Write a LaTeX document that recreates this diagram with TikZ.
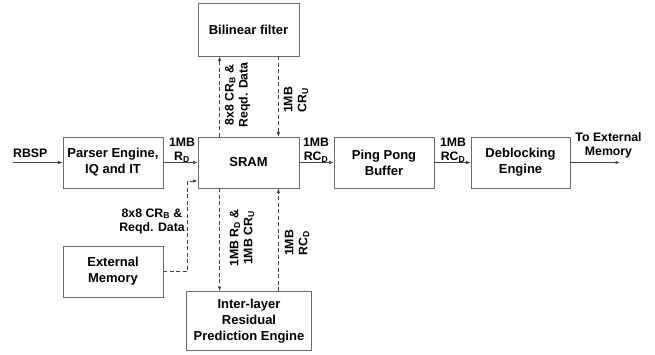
\documentclass[tikz,border=0pt]{standalone}
\usepackage{fontspec}
\setmainfont{Liberation Sans}
\usetikzlibrary{arrows.meta,calc}
\definecolor{boxgray}{HTML}{6A6A6A}
\definecolor{linegray}{HTML}{444444}
\begin{document}
\begin{tikzpicture}[x=1pt,y=-1pt,
 blk/.style={draw=boxgray,line width=0.8pt,inner sep=0pt,align=center,font=\fontsize{13}{16}\selectfont\bfseries},
 lbl/.style={inner sep=0pt,align=center,font=\fontsize{12.3}{14}\selectfont\bfseries},
 conn/.style={draw=linegray,line width=0.7pt,-{Latex[length=4.5pt,width=3.5pt]}},
 dconn/.style={conn,dash pattern=on 4pt off 2.5pt}]
\useasboundingbox (0,0) rectangle (655,354);
\node[blk,minimum width=101pt,minimum height=53pt] (bil) at (248.5,29.5) {Bilinear filter};
\node[blk,minimum width=101pt,minimum height=51pt] (sram) at (248.5,162.5) {SRAM};
\node[blk,minimum width=100pt,minimum height=51pt] (parser) at (113,162.5) {Parser Engine,\\IQ and IT};
\node[blk,minimum width=100pt,minimum height=51pt] (ext) at (113,271.5) {External\\Memory};
\node[blk,minimum width=125pt,minimum height=59pt] (inter) at (249,321) {Inter-layer\\Residual\\Prediction Engine};
\node[blk,minimum width=100pt,minimum height=51pt] (ping) at (384,162.5) {Ping Pong\\Buffer};
\node[blk,minimum width=99pt,minimum height=51pt] (deb) at (520.5,162.5) {Deblocking\\Engine};

\coordinate (in) at (13,162.5);
\coordinate (out) at (620,162.5);
\draw[conn] (in) -- (parser.west);
\draw[conn] (parser) -- (sram);
\draw[conn] (sram) -- (ping);
\draw[conn] (ping) -- (deb);
\draw[conn] (deb.east) -- (out);

\coordinate (sA) at ([xshift=22pt]sram.north west);
\coordinate (sB) at ([xshift=-21pt]sram.north east);
\coordinate (sC) at ([xshift=22pt]sram.south west);
\coordinate (sD) at ([xshift=-21pt]sram.south east);
\coordinate (sE) at ([yshift=-18.5pt]sram.west);
\draw[dconn] (sA) -- (sA |- bil.south);
\draw[dconn] (sB |- bil.south) -- (sB);
\draw[dconn] (sC) -- (sC |- inter.north);
\draw[dconn] (sD |- inter.north) -- (sD);
\draw[dconn] (ext.east) -| ([xshift=-10pt]sE) -- (sE);

\node[lbl,anchor=west] (lrbsp) at (13,153) {RBSP};
\node[lbl] (l1) at (182,150) {1MB\\R\textsubscript{D}};
\node[lbl] (l2) at (316,150) {1MB\\RC\textsubscript{D}};
\node[lbl] (l3) at (453,150) {1MB\\RC\textsubscript{D}};
\node[lbl] (l4) at (608.5,145) {To External\\Memory};
\node[lbl] (l5) at (152,221) {8x8 CR\textsubscript{B} \&\\Reqd. Data};
\node[lbl,rotate=90] (l6) at (237.5,95) {8x8 CR\textsubscript{B} \&\\Reqd. Data};
\node[lbl,rotate=90] (l7) at (296,100) {1MB\\CR\textsubscript{U}};
\node[lbl,rotate=90] (l8) at (242,238) {1MB R\textsubscript{D} \&\\1MB CR\textsubscript{U}};
\node[lbl,rotate=90] (l9) at (297,243) {1MB\\RC\textsubscript{D}};
\end{tikzpicture}
\end{document}
